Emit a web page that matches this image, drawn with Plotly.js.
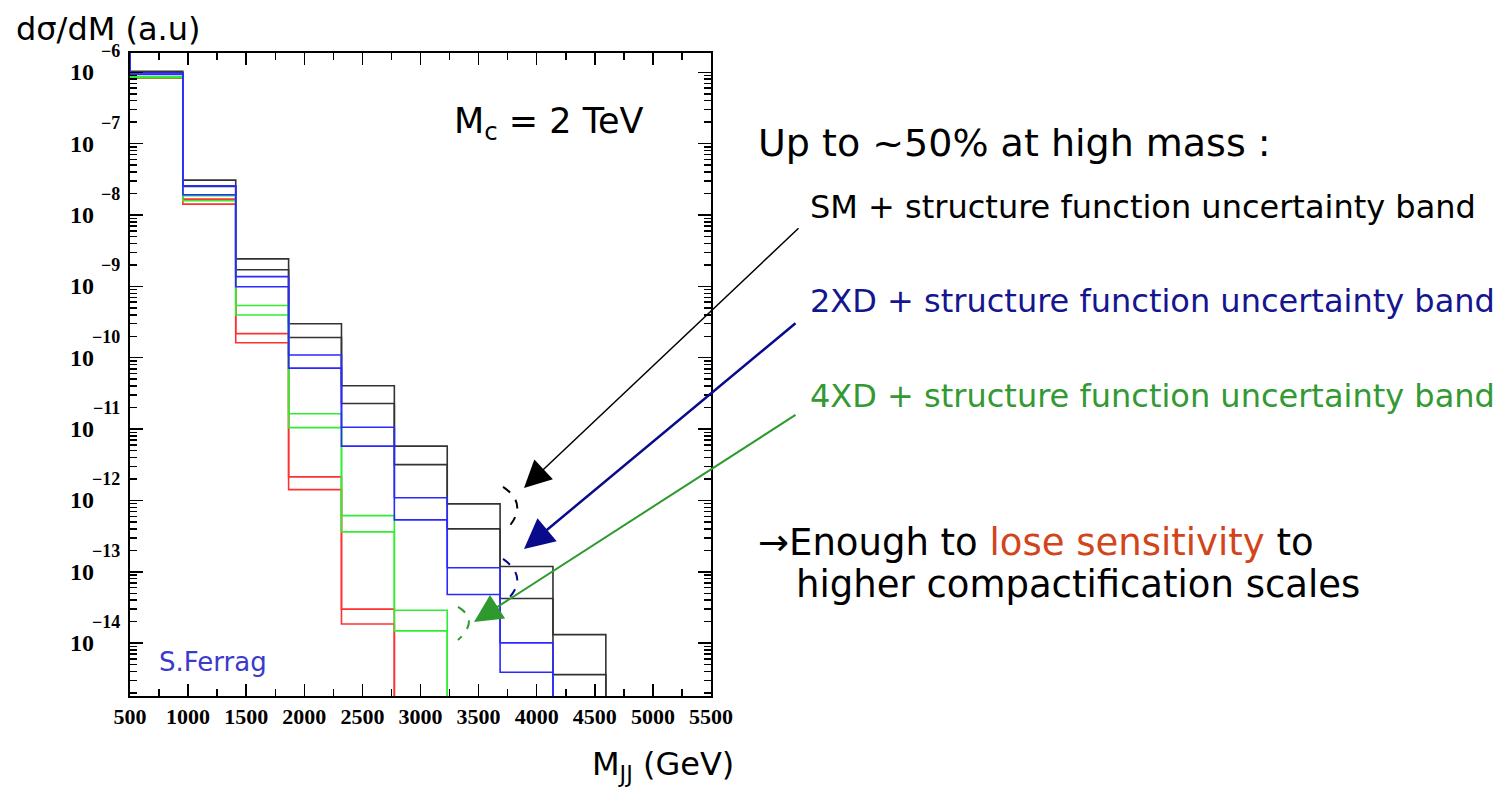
<!DOCTYPE html>
<html>
<head>
<meta charset="utf-8">
<script src="https://cdn.plot.ly/plotly-3.0.1.min.js"></script>
<style>
  html, body { margin: 0; padding: 0; background: #fff; }
  #chart { width: 1504px; height: 787px; }
</style>
</head>
<body>
<div id="chart"></div>
<script>
// Dijet mass bins (GeV) : 9 bins starting at 500 GeV
const binEdges = [500, 955, 1410, 1865, 2320, 2775, 3230, 3685, 4140, 4595];

// dsigma/dM (a.u.) : upper and lower edges of each uncertainty band
const smHigh  = [1.03e-6, 3.08e-8, 2.43e-9, 2.99e-10, 4.04e-11, 5.77e-12, 8.95e-13, 1.19e-13, 1.32e-14];
const smLow   = [9.84e-7, 2.52e-8, 1.71e-9, 1.92e-10, 2.28e-11, 3.18e-12, 4.00e-13, 4.22e-14, 3.63e-15];
const xd2High = [9.77e-7, 2.56e-8, 1.37e-9, 1.09e-10, 1.06e-11, 1.09e-12, 1.14e-13, 1.01e-14, null];
const xd2Low  = [9.29e-7, 1.92e-8, 9.86e-10, 7.14e-11, 5.77e-12, 5.35e-13, 4.80e-14, 3.92e-15, null];
const xd4High = [8.65e-7, 1.86e-8, 5.39e-10, 1.64e-11, 6.14e-13, 2.90e-14, null, null, null];
const xd4Low  = [8.38e-7, 1.58e-8, 3.96e-10, 1.05e-11, 3.63e-13, 1.49e-14, null, null, null];
const redHigh = [8.51e-7, 1.67e-8, 2.18e-10, 2.14e-12, 3.00e-14, null, null, null, null];
const redLow  = [8.24e-7, 1.42e-8, 1.62e-10, 1.42e-12, 1.86e-14, null, null, null, null];

// Axis ticks
const xTickVals = [500, 1000, 1500, 2000, 2500, 3000, 3500, 4000, 4500, 5000, 5500];
const yDecades = [-14, -13, -12, -11, -10, -9, -8, -7, -6];

// Plot frame geometry (pixels)
const W = 1504, H = 787;
const FL = 130, FR = 711, FT = 53.3, FB = 696;
const yRange = [-14.74, -5.73];

const px = x => (x - FL) / (FR - FL);
const py = y => (FB - y) / (FB - FT);

// Histogram outline: starts above the frame, steps through the bins, drops below after the last filled bin
function stepLine(vals) {
  const xs = [binEdges[0]], ys = [Math.pow(10, yRange[1] + 1)];
  let last = -1;
  vals.forEach((v, i) => {
    if (v == null) return;
    xs.push(binEdges[i], binEdges[i + 1]);
    ys.push(v, v);
    last = i;
  });
  xs.push(binEdges[last + 1]);
  ys.push(Math.pow(10, yRange[0] - 1));
  return { xs, ys };
}

function histTrace(vals, color) {
  const s = stepLine(vals);
  return {
    x: s.xs, y: s.ys, type: 'scatter', mode: 'lines',
    line: { color: color, width: 1.6, shape: 'linear' },
    hoverinfo: 'skip', showlegend: false
  };
}

const BLACK = '#333333', RED = '#ff3030', GREEN = '#30ee30', BLUE = '#2a2aff';
const traces = [
  histTrace(smHigh, BLACK), histTrace(smLow, BLACK),
  histTrace(redHigh, RED), histTrace(redLow, RED),
  histTrace(xd4High, GREEN), histTrace(xd4Low, GREEN),
  histTrace(xd2High, BLUE), histTrace(xd2Low, BLUE)
];

const serifBold = { family: 'Liberation Serif', size: 24, color: '#000', weight: 'bold' };
const sans = 'DejaVu Sans';

const annotations = [];

// "10" with raised exponent at each decade
yDecades.forEach(d => {
  annotations.push({
    xref: 'paper', yref: 'y', x: 0, y: d, xshift: -34,
    xanchor: 'right', yanchor: 'middle', showarrow: false,
    text: '<b>10</b>', font: serifBold
  });
  annotations.push({
    xref: 'paper', yref: 'y', x: 0, y: d, xshift: -8, yshift: 21,
    xanchor: 'right', yanchor: 'middle', showarrow: false,
    text: '<b>\u2212' + Math.abs(d) + '</b>',
    font: { family: 'Liberation Serif', size: 18, color: '#000', weight: 'bold' }
  });
});

function label(text, x, y, size, color, anchor) {
  annotations.push({
    xref: 'paper', yref: 'paper', x: px(x), y: py(y),
    xanchor: anchor || 'left', yanchor: 'middle', showarrow: false,
    text: text, font: { family: sans, size: size, color: color || '#000' }
  });
}

label('d\u03c3/dM (a.u)', 14, 29, 32);
label('M<sub>JJ</sub> (GeV)', 736, 766, 32, '#000', 'right');
label('M<sub>c</sub> = 2 TeV', 452, 124, 35);
label('S.Ferrag', 157, 662, 26, '#3a3acc');

label('Up to ~50% at high mass :', 756, 143, 38);
label('SM + structure function uncertainty band', 808, 207, 32);
label('2XD + structure function uncertainty band', 808, 301, 32, '#15158f');
label('4XD + structure function uncertainty band', 808, 396, 32, '#339933');
label('\u2192Enough to <span style="color:#d2451a">lose sensitivity</span> to', 756, 543, 37);
label('higher compactification scales', 794, 585, 37);

// Arrows pointing at the tails of the bands
function arrow(tail, head, color, width, size) {
  annotations.push({
    xref: 'paper', yref: 'paper', x: px(head[0]), y: py(head[1]),
    ax: tail[0] - head[0], ay: tail[1] - head[1],
    showarrow: true, arrowhead: 2, arrowsize: size, arrowwidth: width,
    arrowcolor: color, text: ''
  });
}
arrow([800, 227], [524, 488], '#000000', 1.5, 3.6);
arrow([797, 322], [524, 549], '#0a0a8c', 2.5, 2.4);
arrow([797, 414], [474, 622], '#2e9a2e', 2, 2.8);

// Dashed brackets marking the band widths
function arc(p0, p1, p2, color) {
  const P = p => px(p[0]).toFixed(4) + ',' + py(p[1]).toFixed(4);
  return {
    type: 'path', xref: 'paper', yref: 'paper',
    path: 'M' + P(p0) + ' Q' + P(p1) + ' ' + P(p2),
    line: { color: color, width: 2, dash: 'dash' }
  };
}
const shapes = [
  arc([503, 487], [530, 505], [506, 530], '#000000'),
  arc([503, 559], [530, 578], [506, 601], '#0a0a8c'),
  arc([458, 607], [480, 620], [458, 640], '#2e9a2e')
];

const layout = {
  width: W, height: H,
  margin: { l: FL, r: W - FR, t: FT, b: H - FB, pad: 0 },
  paper_bgcolor: '#ffffff', plot_bgcolor: '#ffffff',
  showlegend: false,
  xaxis: {
    range: [500, 5500], tickmode: 'array', tickvals: xTickVals,
    ticktext: xTickVals.map(v => '<b>' + v + '</b>'),
    ticks: 'inside', ticklen: 12, tickwidth: 1.5, tickcolor: '#000',
    minor: { ticks: 'inside', ticklen: 7, tickwidth: 1.5, tickcolor: '#000', dtick: 250, tick0: 500, showgrid: false },
    showline: true, linecolor: '#000', linewidth: 2, mirror: 'ticks',
    showgrid: false, zeroline: false,
    tickfont: { family: 'Liberation Serif', size: 22, color: '#000', weight: 'bold' }
  },
  yaxis: {
    type: 'log', range: yRange, tickmode: 'linear', tick0: 0, dtick: 1,
    ticks: 'inside', ticklen: 13, tickwidth: 1.5, tickcolor: '#000',
    minor: { ticks: 'inside', ticklen: 7, tickwidth: 1.5, tickcolor: '#000', dtick: 'D1', showgrid: false },
    showticklabels: false,
    showline: true, linecolor: '#000', linewidth: 2, mirror: 'ticks',
    showgrid: false, zeroline: false
  },
  annotations: annotations,
  shapes: shapes
};

Plotly.newPlot('chart', traces, layout, { staticPlot: true, displayModeBar: false });
</script>
</body>
</html>
